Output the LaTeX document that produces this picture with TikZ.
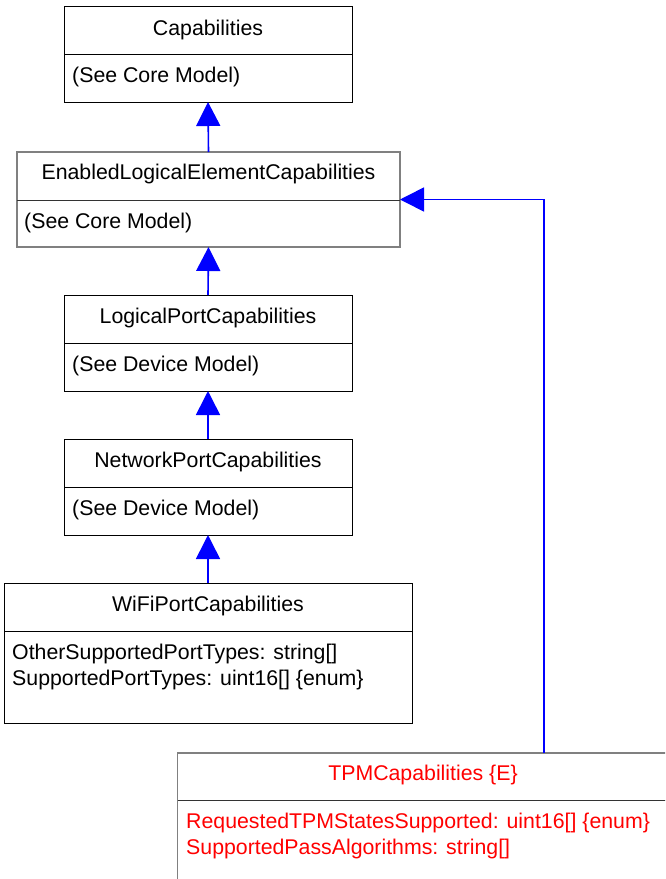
\documentclass[tikz,border=0pt]{standalone}
\usepackage{fontspec}
\setmainfont{Liberation Sans}
\usetikzlibrary{arrows.meta}
\definecolor{umlblue}{RGB}{0,0,255}
\definecolor{umlred}{RGB}{255,0,0}
\definecolor{edgegray}{RGB}{128,128,128}
\begin{document}
\begin{tikzpicture}[x=1pt,y=-1pt,
  box/.style={draw=black,line width=1pt,inner sep=0pt,outer sep=0pt,anchor=north west},
  graybox/.style={box,draw=edgegray,line width=1.6pt},
  divider/.style={line width=1pt,draw=black},
  title/.style={anchor=base,inner sep=0pt,font=\fontsize{21.3}{25.6}\selectfont},
  attr/.style={anchor=base west,inner sep=0pt,font=\fontsize{21.3}{25.6}\selectfont,align=left},
  inh/.style={draw=umlblue,line width=1.6pt,-{Triangle[length=24pt,width=24pt]}}
]
\useasboundingbox (0,0) rectangle (665,879);
\clip (0,0) rectangle (665,879);

% Capabilities
\node[box,minimum width=288pt,minimum height=96pt] (cap) at (64,6) {};
\draw[divider] (64,54) -- (352,54);
\node[title] (capt) at (208,35) {Capabilities};
\node[attr] (capa) at (72,82) {(See Core Model)};

% EnabledLogicalElementCapabilities
\node[graybox,minimum width=383pt,minimum height=95pt] (elec) at (17,152) {};
\draw[divider,draw=black!80] (17,200) -- (400,200);
\node[title] (elect) at (208.5,179) {EnabledLogicalElementCapabilities};
\node[attr] (eleca) at (24,228) {(See Core Model)};

% LogicalPortCapabilities
\node[box,minimum width=288pt,minimum height=96pt] (lpc) at (64,295) {};
\draw[divider] (64,343) -- (352,343);
\node[title] (lpct) at (208,323) {LogicalPortCapabilities};
\node[attr] (lpca) at (72,371) {(See Device Model)};

% NetworkPortCapabilities
\node[box,minimum width=288pt,minimum height=96pt] (npc) at (64,439) {};
\draw[divider] (64,487) -- (352,487);
\node[title] (npct) at (208,467) {NetworkPortCapabilities};
\node[attr] (npca) at (72,515) {(See Device Model)};

% WiFiPortCapabilities
\node[box,minimum width=408pt,minimum height=140pt] (wifi) at (4,583) {};
\draw[divider] (4,631) -- (412,631);
\node[title] (wifit) at (208,611) {WiFiPortCapabilities};
\node[attr] (wifia1) at (12,659) {OtherSupportedPortTypes: string[]};
\node[attr] (wifia2) at (12,685) {SupportedPortTypes: uint16[] \{enum\}};

% TPMCapabilities
\node[graybox,minimum width=492pt,minimum height=140pt] (tpm) at (177.5,753) {};
\draw[divider,draw=black!80] (177.5,800) -- (669,800);
\node[title,text=umlred] (tpmt) at (423,780) {TPMCapabilities \{E\}};
\node[attr,text=umlred] (tpma1) at (186,828) {RequestedTPMStatesSupported: uint16[] \{enum\}};
\node[attr,text=umlred] (tpma2) at (186,854) {SupportedPassAlgorithms: string[]};

% inheritance connectors
\draw[inh] (elec.north) -- (cap.south);
\draw[inh] (lpc.north) -- (elec.south);
\draw[inh] (npc.north) -- (lpc.south);
\draw[inh] (wifi.north) -- (npc.south);
\coordinate (tpmtop) at (544,753);
\draw[inh] (tpmtop) |- (elec.east);
\end{tikzpicture}
\end{document}
